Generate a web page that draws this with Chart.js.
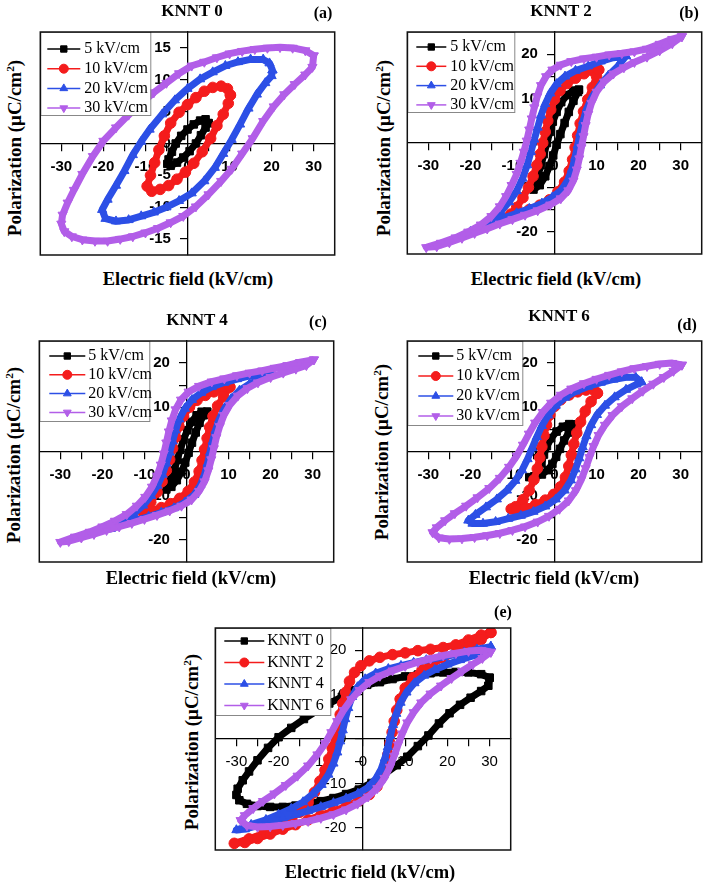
<!DOCTYPE html>
<html>
<head>
<meta charset="utf-8">
<script src="https://cdn.jsdelivr.net/npm/chart.js@4/dist/chart.umd.min.js"></script>
<style>
  body { margin: 0; width: 708px; height: 884px; overflow: hidden; background: #fff; position: relative; }
  canvas { position: absolute; }
  .t { position: absolute; transform: translate(-50%, -50%); white-space: nowrap; color: #000;
       font-family: "Liberation Serif", "Times New Roman", serif; font-weight: bold; }
  .ttl { font-size: 17px; }
  .tag { font-size: 16px; }
  .xt { font-size: 18.5px; }
  .yt { font-size: 19px; transform: translate(-50%, -50%) rotate(-90deg); }
  .yt sup { font-size: 0.6em; }
</style>
</head>
<body>
<canvas id="pa"></canvas>
<canvas id="pb"></canvas>
<canvas id="pc"></canvas>
<canvas id="pd"></canvas>
<canvas id="pe"></canvas>

<div class="t ttl" style="left:192px;top:11px">KNNT 0</div>
<div class="t tag" style="left:323px;top:13px">(a)</div>
<div class="t ttl" style="left:561px;top:11px">KNNT 2</div>
<div class="t tag" style="left:689px;top:13px">(b)</div>
<div class="t ttl" style="left:197px;top:320px">KNNT 4</div>
<div class="t tag" style="left:318px;top:322px">(c)</div>
<div class="t ttl" style="left:559px;top:316px">KNNT 6</div>
<div class="t tag" style="left:687px;top:325px">(d)</div>
<div class="t tag" style="left:503px;top:612px">(e)</div>

<div class="t xt" style="left:188px;top:279px">Electric field (kV/cm)</div>
<div class="t xt" style="left:556px;top:279px">Electric field (kV/cm)</div>
<div class="t xt" style="left:191px;top:578px">Electric field (kV/cm)</div>
<div class="t xt" style="left:554px;top:578px">Electric field (kV/cm)</div>
<div class="t xt" style="left:370px;top:872px">Electric field (kV/cm)</div>

<div class="t yt" style="left:15px;top:148px">Polarization (μC/cm<sup>2</sup>)</div>
<div class="t yt" style="left:384px;top:148px">Polarization (μC/cm<sup>2</sup>)</div>
<div class="t yt" style="left:14px;top:455px">Polarization (μC/cm<sup>2</sup>)</div>
<div class="t yt" style="left:382px;top:452px">Polarization (μC/cm<sup>2</sup>)</div>
<div class="t yt" style="left:192px;top:742px">Polarization (μC/cm<sup>2</sup>)</div>

<script>
// legend texts
const fieldLabels = ['5 kV/cm', '10 kV/cm', '20 kV/cm', '30 kV/cm'];
const sampleLabels = ['KNNT 0', 'KNNT 2', 'KNNT 4', 'KNNT 6'];

// tick positions (labels are shown on every 10, or every 5 for panel a)
const xTicks = [-30, -25, -20, -15, -10, -5, 0, 5, 10, 15, 20, 25, 30];
const yTicksSmall = [-15, -10, -5, 0, 5, 10, 15];
const yTicksLarge = [-20, -15, -10, -5, 0, 5, 10, 15, 20];

// P-E loops, [E (kV/cm), P (uC/cm2)]
const knnt0_5 = [[5,3.2],[4.3,3.8],[3,3.6],[1.5,3],[0,2.2],[-1.5,1.2],[-2.8,0],[-3.7,-1.3],[-4.5,-2.5],[-4.8,-3.2],
  [-4,-3.5],[-2.5,-3],[-1,-2.2],[0.5,-1.2],[2,0],[3.2,1.3],[4.3,2.5],[5,3.2]];
const knnt0_10 = [[10.2,7.6],[9.5,8.6],[8,9],[6,8.8],[4,8.2],[2,7.2],[0,6.1],[-2,4.9],[-4,3.2],[-5.5,1.2],[-6.8,-1],
  [-7.8,-3],[-8.8,-5],[-9.6,-6.7],[-8.5,-7.5],[-6.5,-7.2],[-4.5,-6.6],[-2.5,-5.6],[-0.5,-4.5],[1.5,-3.1],[3.5,-1.3],
  [5.5,0.8],[7,2.8],[8.5,4.6],[9.7,6.3],[10.2,7.6]];
const knnt0_20 = [[20.2,11.5],[19.5,12.6],[18,13.2],[15,13.2],[12,12.8],[9,12.2],[6,11.2],[3,10.1],[0,8.6],[-3,6.8],
  [-6,4.6],[-9,2.2],[-11,0.3],[-13,-1.8],[-15,-4.3],[-17,-6.6],[-19,-8.8],[-20.3,-10.4],[-19.5,-11.8],[-17,-12.2],
  [-14,-12],[-11,-11.4],[-8,-10.8],[-5,-10],[-2,-9],[1,-7.8],[4,-5.9],[6.5,-3.8],[8.5,-1.6],[10.5,0.6],[12.5,3],
  [14.5,5.5],[16.5,7.7],[18.5,9.5],[20,10.6],[20.2,11.5]];
const knnt0_30 = [[30,13.8],[28,14.6],[25,15],[22,15.1],[19,15],[16,14.8],[13,14.5],[10,14.1],[7,13.5],[4,12.8],[1,12.2],
  [-2,11],[-5,9.5],[-8,8],[-11,6.3],[-14,4.5],[-17,2.5],[-20,0.4],[-22.5,-2],[-25,-4.8],[-27,-7.3],[-28.5,-9.3],
  [-29.7,-11.2],[-30,-12.6],[-29.3,-13.8],[-27.5,-14.6],[-25,-15.1],[-22,-15.3],[-19,-15.3],[-16,-15],[-13,-14.6],
  [-10,-14],[-7,-13.3],[-4,-12.4],[-1,-11.4],[2,-9.9],[5,-8],[8,-5.9],[10.5,-4],[13,-1.6],[15.5,0.8],[18,3.5],
  [20.5,5.8],[23,7.7],[25.5,9.3],[28,10.8],[29.7,12],[30,13.8]];

const knnt2_5 = [[5.8,12],[4.5,11.8],[3,10.8],[1.6,9.2],[0.5,7],[-0.4,4.8],[-1.1,2.5],[-1.8,0],[-2.5,-2.5],[-3.2,-5],
  [-4,-7.5],[-4.8,-9.8],[-5,-10.5],[-3.5,-9.5],[-2.2,-7.5],[-1.2,-5.2],[-0.3,-2.8],[0.5,-0.4],[1.4,2],[2.4,4.5],
  [3.4,7],[4.5,9.5],[5.6,11.5],[5.8,12]];
const knnt2_10 = [[10.5,16.5],[9,16.3],[7,15.6],[5,14.6],[3,13.4],[1.3,11.8],[0,9.8],[-0.9,7.5],[-1.6,5],[-2.2,2.5],
  [-2.8,0],[-3.4,-2.5],[-4.2,-5],[-5.1,-7.5],[-6.2,-10],[-7.5,-12.3],[-9,-14.5],[-10.4,-16],[-8.5,-15.8],[-6,-15],
  [-3.5,-14],[-1.2,-12.8],[0.8,-11],[2.4,-8.8],[3.5,-6.3],[4.3,-3.7],[4.9,-1],[5.5,1.7],[6.1,4.4],[6.9,7.1],
  [7.9,9.8],[9,12.5],[10,15],[10.5,16.5]];
const knnt2_20 = [[17,19.6],[14,19.2],[11,18.4],[8,17.3],[5,16.3],[2.5,15],[0.5,13.3],[-1,11.2],[-2.2,8.8],[-3.2,6.2],
  [-4,3.5],[-4.8,0.8],[-5.6,-2],[-6.5,-5],[-7.6,-8],[-9,-10.8],[-10.8,-13.3],[-12.8,-15.5],[-15,-17.5],[-17.5,-18.9],
  [-20,-20],[-17.5,-19.4],[-15,-18.2],[-12,-16.9],[-9,-15.8],[-6,-14.8],[-3,-13.6],[-0.5,-12.2],[1.7,-10.5],
  [3.2,-8.3],[4.2,-5.8],[4.9,-3.2],[5.5,-0.5],[6.1,2.2],[6.8,5],[7.7,7.8],[9,10.5],[10.8,13],[12.8,15.2],[15,17.2],
  [17,19.6]];
const knnt2_30 = [[30.3,24],[28,23.4],[25,22.3],[22,21.2],[19,20.6],[16,20.2],[13,19.9],[10,19.4],[7,19],[4,18.4],
  [1.5,17.6],[-0.5,16.5],[-2,15],[-3.2,13],[-4.1,10.5],[-4.8,8],[-5.4,5.5],[-6,3],[-6.6,0.5],[-7.3,-2],[-8.1,-4.5],
  [-9,-7],[-10.2,-9.5],[-11.5,-12],[-13,-14.3],[-15,-16.5],[-17.5,-18.4],[-20.5,-20],[-23.5,-21.3],[-27,-22.5],
  [-30.5,-23.5],[-28,-23.3],[-25,-22.4],[-22,-21.4],[-19,-20.3],[-16,-19.3],[-13,-18.2],[-10,-17.2],[-7,-16.2],
  [-4,-15.2],[-1,-13.9],[1.5,-12.5],[3.3,-10.7],[4.5,-8.5],[5.3,-6],[5.9,-3.5],[6.4,-1],[6.9,1.5],[7.4,4],[8,6.5],
  [8.8,9],[10,11.5],[11.8,13.8],[14,15.6],[16.5,17],[19,18.2],[22,19.4],[25,20.8],[28,22.4],[30.3,24]];

const knnt4_5 = [[4.9,9],[3.6,9],[2.4,8.2],[1.2,6.7],[0.2,4.8],[-0.7,2.7],[-1.5,0.4],[-2.2,-1.9],[-2.9,-4.2],[-3.8,-6.5],
  [-4.8,-8.6],[-3.6,-8],[-2.3,-6.5],[-1.2,-4.6],[-0.3,-2.5],[0.5,-0.3],[1.3,2],[2.2,4.3],[3.1,6.5],[4.1,8.2],[4.9,9]];
const knnt4_10 = [[10.3,14.6],[8.5,14.2],[6.5,13.5],[4.5,12.7],[2.5,11.6],[0.7,10],[-0.7,8],[-1.8,5.7],[-2.6,3.2],
  [-3.3,0.7],[-4,-1.8],[-4.8,-4.3],[-5.8,-6.8],[-7,-9.2],[-8.5,-11.5],[-10.3,-13.8],[-8.3,-13.4],[-6,-12.7],
  [-3.8,-11.8],[-1.6,-10.6],[0.4,-9],[1.9,-6.9],[3,-4.5],[3.7,-2],[4.3,0.5],[4.9,3],[5.5,5.5],[6.3,8],[7.4,10.3],
  [8.8,12.5],[10.3,14.6]];
const knnt4_20 = [[20.2,17.8],[18,17.7],[15,17.1],[12,16.4],[9,15.6],[6,14.6],[3.5,13.3],[1.3,11.7],[-0.4,9.7],
  [-1.7,7.3],[-2.6,4.8],[-3.3,2.3],[-4,-0.2],[-4.8,-2.7],[-5.7,-5.2],[-6.9,-7.7],[-8.4,-10],[-10.3,-12.2],
  [-12.6,-14.1],[-15.2,-15.7],[-18,-17],[-20.2,-17.9],[-18,-17.5],[-15,-16.5],[-12,-15.6],[-9,-14.7],[-6,-13.8],
  [-3,-12.8],[-0.4,-11.5],[1.8,-9.8],[3.3,-7.6],[4.3,-5.2],[5,-2.7],[5.6,-0.2],[6.2,2.3],[6.9,4.8],[7.8,7.3],
  [9,9.7],[10.6,11.9],[12.6,13.8],[15,15.3],[17.6,16.5],[20.2,17.8]];
const knnt4_30 = [[30.3,20.8],[27,20.2],[24,19.5],[21,18.9],[18,18.3],[15,17.8],[12,17.2],[9,16.5],[6,15.8],[3,14.8],
  [0.5,13.5],[-1.3,11.7],[-2.6,9.5],[-3.5,7],[-4.2,4.5],[-4.8,2],[-5.4,-0.5],[-6.1,-3],[-7,-5.5],[-8.2,-8],
  [-9.8,-10.3],[-11.8,-12.3],[-14.2,-14.2],[-17,-15.7],[-20,-17],[-23,-18.2],[-26.5,-19.3],[-30,-20.5],[-28,-20.3],
  [-25,-19.5],[-22,-18.7],[-19,-17.8],[-16,-17],[-13,-16.2],[-10,-15.3],[-7,-14.4],[-4,-13.4],[-1.2,-12.3],
  [1.2,-10.9],[3,-9],[4.3,-6.8],[5.2,-4.3],[5.9,-1.8],[6.5,0.7],[7.1,3.2],[7.9,5.7],[8.9,8.2],[10.3,10.5],
  [12.2,12.6],[14.5,14.3],[17,15.6],[20,16.8],[23,17.8],[26,18.7],[28.5,19.5],[30.3,20.8]];

const knnt6_5 = [[4.8,6.1],[3.5,6.2],[2,5.6],[0.5,4.5],[-0.8,3],[-1.8,1.2],[-2.5,-0.7],[-3.1,-2.6],[-3.8,-4.3],
  [-4.8,-5.6],[-6,-5.8],[-4.6,-5.7],[-3,-5.2],[-1.6,-4.2],[-0.5,-2.8],[0.4,-1.2],[1.3,0.6],[2.3,2.5],[3.4,4.3],
  [4.5,5.7],[4.8,6.1]];
const knnt6_10 = [[10.2,13.2],[9.3,13.9],[7.5,13.9],[5.5,13.5],[3.5,12.8],[1.5,11.7],[0,10.2],[-1.1,8.3],[-1.9,6],
  [-2.5,3.6],[-3,1.1],[-3.5,-1.4],[-4.1,-3.9],[-4.9,-6.4],[-6,-8.8],[-7.5,-10.9],[-9.3,-12.5],[-10.3,-13],
  [-9,-13.3],[-6.8,-12.8],[-4.5,-12],[-2.2,-11],[-0.2,-9.7],[1.4,-8],[2.6,-5.8],[3.4,-3.3],[4,-0.8],[4.6,1.7],
  [5.3,4.2],[6.2,6.7],[7.3,9.1],[8.7,11.3],[10.2,13.2]];
const knnt6_20 = [[20.7,15.7],[19.3,16.8],[17,16.8],[14,16.3],[11,15.6],[8,14.7],[5,13.6],[2.5,12.2],[0.3,10.4],
  [-1.5,8.2],[-3,5.8],[-4.2,3.3],[-5.3,0.8],[-6.4,-1.7],[-7.7,-4.2],[-9.3,-6.6],[-11.3,-8.8],[-13.7,-10.8],
  [-16.3,-12.6],[-18.8,-14.3],[-20.5,-15.6],[-19.5,-16.3],[-17,-16.3],[-14,-15.9],[-11,-15.2],[-8,-14.5],[-5,-13.6],
  [-2.2,-12.4],[0.3,-10.8],[2.4,-8.8],[3.9,-6.5],[5,-4],[5.9,-1.5],[6.7,1],[7.6,3.5],[8.7,6],[10.1,8.3],[12,10.4],
  [14.3,12.3],[17,14],[19.5,15.2],[20.7,15.7]];
const knnt6_30 = [[30.3,19.6],[28,20],[25,19.8],[22,19.3],[19,18.8],[16,18.1],[13,17.3],[10,16.4],[7,15.4],[4,14.2],
  [1.5,12.8],[-0.8,11],[-2.8,8.9],[-4.6,6.5],[-6.1,4],[-7.5,1.5],[-9,-1],[-10.8,-3.5],[-13,-6],[-15.5,-8.3],
  [-18.3,-10.4],[-21,-12.3],[-23.7,-14],[-26,-15.6],[-28,-17.2],[-29,-18.3],[-27.5,-19.5],[-25,-19.8],[-22,-19.7],
  [-19,-19.4],[-16,-19],[-13,-18.5],[-10,-17.8],[-7,-17],[-4,-15.9],[-1.3,-14.6],[1.2,-13],[3.4,-11.1],[5.1,-8.8],
  [6.4,-6.3],[7.4,-3.8],[8.3,-1.3],[9.3,1.2],[10.5,3.7],[12,6],[13.8,8.2],[16,10.2],[18.5,12],[21,13.7],[23.5,15.3],
  [26,16.8],[28.3,18.2],[30.3,19.6]];

// series styling, same order as the legends
const colors = ['#000000', '#f41c1c', '#2c4fe6', '#b25ee8'];
const shapes = ['rect', 'circle', 'triangle', 'triangle'];
const turns = [0, 0, 0, 180];

// frame around the plot area
const frame = {
  id: 'frame',
  afterDraw(chart) {
    const { ctx, chartArea: a } = chart;
    ctx.save();
    ctx.strokeStyle = '#111';
    ctx.lineWidth = 1.5;
    ctx.strokeRect(a.left, a.top, a.right - a.left, a.bottom - a.top);
    ctx.restore();
  }
};

// legend box in the top left corner, line + marker + text
const boxLegend = {
  id: 'boxLegend',
  afterDatasetsDraw(chart, args, o) {
    const { ctx, chartArea: a } = chart;
    ctx.save();
    ctx.fillStyle = '#fff';
    ctx.fillRect(a.left, a.top, o.w, o.h);
    ctx.strokeStyle = '#888';
    ctx.lineWidth = 1;
    ctx.strokeRect(a.left + 0.5, a.top + 0.5, o.w, o.h);
    chart.data.datasets.forEach((ds, i) => {
      const y = a.top + o.first + i * o.step;
      ctx.strokeStyle = ds.borderColor;
      ctx.fillStyle = ds.backgroundColor;
      ctx.lineWidth = 1.5;
      ctx.beginPath();
      ctx.moveTo(a.left + o.l0, y);
      ctx.lineTo(a.left + o.l1, y);
      ctx.stroke();
      ctx.lineWidth = 1;
      Chart.helpers.drawPoint(ctx, { pointStyle: ds.pointStyle, rotation: ds.rotation, radius: 4.5, borderWidth: 1 },
        a.left + (o.l0 + o.l1) / 2, y);
      ctx.fillStyle = '#000';
      ctx.font = '16px "Liberation Serif", serif';
      ctx.textBaseline = 'middle';
      ctx.fillText(ds.label, a.left + o.tx, y);
    });
    ctx.restore();
  }
};

const PAD = 4;

function makePanel(id, box, loops, labels, yLim, yTicks, yLabelStep, legend, tickFont) {
  const cv = document.getElementById(id);
  cv.width = box[2] - box[0] + 2 * PAD;
  cv.height = box[3] - box[1] + 2 * PAD;
  cv.style.left = (box[0] - PAD) + 'px';
  cv.style.top = (box[1] - PAD) + 'px';

  const datasets = loops.map((loop, i) => ({
    label: labels[i],
    data: loop.map(p => ({ x: p[0], y: p[1] })),
    showLine: true,
    borderColor: colors[i],
    backgroundColor: colors[i],
    borderWidth: 7,
    borderJoinStyle: 'round',
    pointStyle: shapes[i],
    rotation: turns[i],
    pointRadius: 5.3,
    pointBorderWidth: 1,
    order: 3 - i
  }));

  const gridOpts = { drawOnChartArea: false, drawTicks: true, tickLength: 7, color: '#000', lineWidth: 1.2 };
  const borderOpts = { display: true, color: '#000', width: 1.3 };

  return new Chart(cv, {
    type: 'scatter',
    data: { datasets },
    options: {
      responsive: false,
      animation: false,
      devicePixelRatio: 1,
      layout: { padding: PAD },
      plugins: { legend: { display: false }, tooltip: { enabled: false }, boxLegend: legend },
      scales: {
        x: {
          type: 'linear', position: { y: 0 }, min: -35, max: 35,
          grid: gridOpts, border: borderOpts,
          afterBuildTicks: s => { s.ticks = xTicks.map(v => ({ value: v })); },
          ticks: {
            autoSkip: false, maxRotation: 0, padding: 7, color: '#000', font: tickFont,
            callback: v => (v % 10 === 0 ? String(v) : '')
          }
        },
        y: {
          type: 'linear', position: { x: 0 }, min: -yLim, max: yLim,
          grid: gridOpts, border: borderOpts,
          afterBuildTicks: s => { s.ticks = yTicks.map(v => ({ value: v })); },
          ticks: {
            autoSkip: false, color: '#000', font: tickFont,
            // centred axes ignore tick padding, so pad the label text itself
            callback: v => (v % yLabelStep === 0 ? String(v) + '    ' : '')
          }
        }
      }
    },
    plugins: [frame, boxLegend]
  });
}

const boldTicks = { family: '"Liberation Sans", Arial, sans-serif', size: 15, weight: 'bold' };
const plainTicks = { family: '"Liberation Sans", Arial, sans-serif', size: 15, weight: 'normal' };

makePanel('pa', [38, 24, 337, 263], [knnt0_5, knnt0_10, knnt0_20, knnt0_30], fieldLabels, 17.5, yTicksSmall, 5,
  { w: 110, h: 83, first: 17, step: 19.7, l0: 7, l1: 40, tx: 44 }, boldTicks);
makePanel('pb', [405, 24, 704, 262], [knnt2_5, knnt2_10, knnt2_20, knnt2_30], fieldLabels, 25, yTicksLarge, 10,
  { w: 107, h: 80, first: 15, step: 19.3, l0: 9, l1: 39, tx: 43 }, boldTicks);
makePanel('pc', [37, 333, 336, 570], [knnt4_5, knnt4_10, knnt4_20, knnt4_30], fieldLabels, 25, yTicksLarge, 10,
  { w: 110, h: 80, first: 15, step: 18.8, l0: 10, l1: 46, tx: 49 }, boldTicks);
makePanel('pd', [405, 333, 704, 570], [knnt6_5, knnt6_10, knnt6_20, knnt6_30], fieldLabels, 25, yTicksLarge, 10,
  { w: 115, h: 84, first: 15, step: 20, l0: 11, l1: 46, tx: 49 }, boldTicks);
makePanel('pe', [213, 620, 513, 858], [knnt0_30, knnt2_30, knnt4_30, knnt6_30], sampleLabels, 25, yTicksLarge, 10,
  { w: 115, h: 87, first: 13, step: 21.5, l0: 9, l1: 49, tx: 52 }, plainTicks);
</script>
</body>
</html>
